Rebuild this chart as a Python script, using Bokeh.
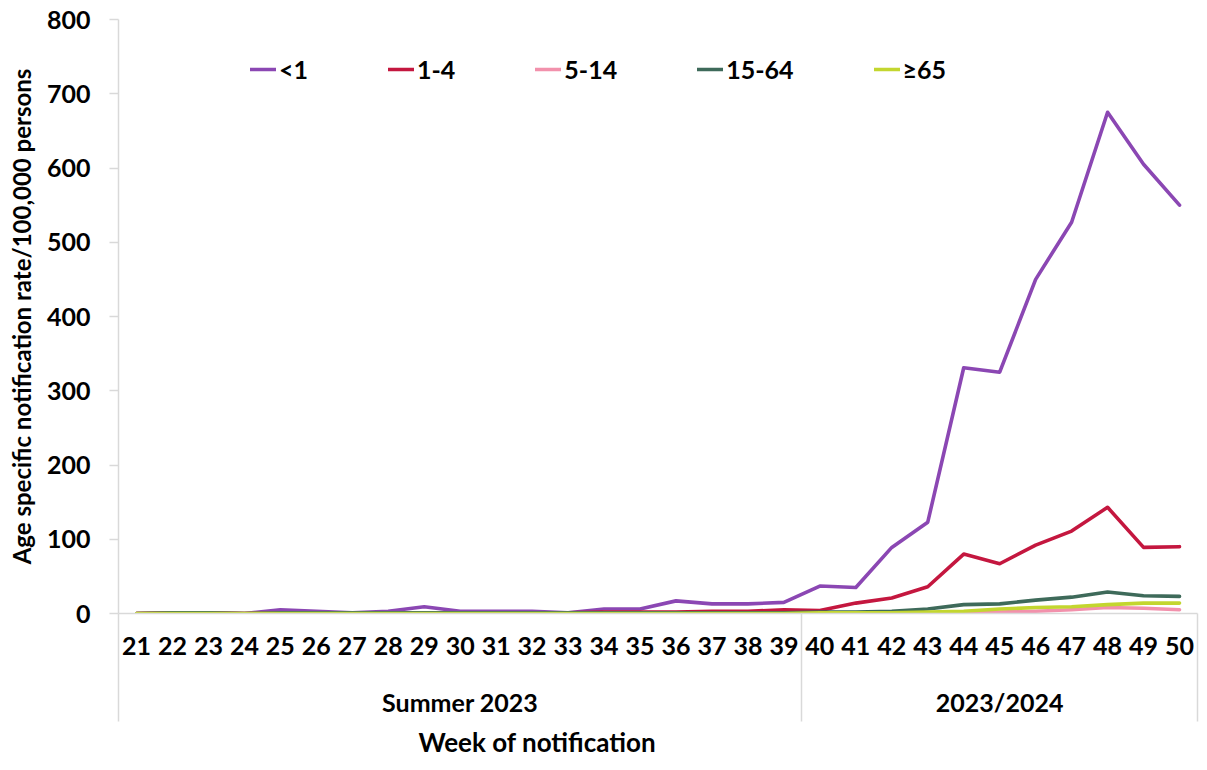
from bokeh.plotting import figure
from bokeh.models import Range1d, FixedTicker, LinearAxis, Legend, LegendItem, Title
from bokeh.embed import file_html
from bokeh.resources import INLINE

# ---------------- data ----------------
weeks = [21, 22, 23, 24, 25, 26, 27, 28, 29, 30, 31, 32, 33, 34, 35, 36, 37, 38, 39,
         40, 41, 42, 43, 44, 45, 46, 47, 48, 49, 50]

age_groups = ["<1", "1-4", "5-14", "15-64", "\u226565"]

rate_lt1 = [0, 1, 1, 0, 5, 3, 1, 3, 9, 3, 3, 3, 1, 6, 6, 17, 13, 13, 15,
            37, 35, 89, 123, 331, 325, 450, 527, 675, 605, 550]
rate_1_4 = [0, 1, 1, 0, 1, 1, 1, 1, 1, 1, 1, 1, 1, 2, 2, 2, 3, 3, 5,
            4, 14, 21, 36, 80, 67, 92, 111, 143, 89, 90]
rate_5_14 = [0, 0, 0, 0, 0, 0, 0, 0, 0, 0, 0, 0, 0, 0, 0, 0, 0, 0, 0,
             0, 0, 1, 1, 1, 2, 3, 5, 8, 7, 5]
rate_15_64 = [0, 1, 1, 0, 1, 1, 1, 1, 1, 1, 1, 1, 1, 1, 1, 1, 1, 1, 1,
              2, 2, 3, 6, 12, 13, 18, 22, 29, 24, 23]
rate_65plus = [0, 0, 0, 0, 0, 0, 0, 0, 0, 0, 0, 0, 0, 0, 0, 0, 0, 0, 0,
               1, 1, 1, 2, 3, 6, 8, 9, 12, 14, 14]

season_names = ["Summer 2023", "2023/2024"]
season_first_week = [21, 40]
season_last_week = [39, 50]

y_ticks = [0, 100, 200, 300, 400, 500, 600, 700, 800]

series = [rate_lt1, rate_1_4, rate_5_14, rate_15_64, rate_65plus]
colors = ["#8B47B3", "#C4173F", "#F291AC", "#3E6A5A", "#C3D62F"]

FONT = "Lato"
GRAY = "#D9D9D9"
TXT = "#000000"
FS = "25px"
SEP_LEN = 108

p = figure(width=1199, height=762, output_backend="svg", toolbar_location=None,
           x_range=Range1d(weeks[0] - 0.5, weeks[-1] + 0.5),
           y_range=Range1d(y_ticks[0], y_ticks[-1]),
           x_axis_type=None, y_axis_type=None,
           min_border_left=118, min_border_right=2, min_border_top=19,
           min_border_bottom=149)
p.outline_line_color = None
p.xgrid.visible = False
p.ygrid.visible = False
p.background_fill_color = "white"

# ---------------- axes ----------------
edges = [season_first_week[0] - 0.5] + [w + 0.5 for w in season_last_week]
xa = LinearAxis(ticker=FixedTicker(ticks=weeks, minor_ticks=edges))
xa.axis_line_color = GRAY
xa.axis_line_width = 1.5
xa.major_tick_in = 0
xa.major_tick_out = 0
xa.major_tick_line_color = None
xa.minor_tick_in = 0
xa.minor_tick_out = SEP_LEN
xa.minor_tick_line_color = GRAY
xa.minor_tick_line_width = 1.5
xa.major_label_standoff = 23 - SEP_LEN
xa.major_label_text_font = FONT
xa.major_label_text_font_size = FS
xa.major_label_text_font_style = "bold"
xa.major_label_text_color = TXT
p.add_layout(xa, "below")

centers = [(f - 0.5 + l + 0.5) / 2 for f, l in zip(season_first_week, season_last_week)]
ga = LinearAxis(ticker=FixedTicker(ticks=centers, minor_ticks=[]),
                major_label_overrides={c: n for c, n in zip(centers, season_names)})
ga.axis_line_color = None
ga.major_tick_line_color = None
ga.minor_tick_line_color = None
ga.major_tick_in = 0
ga.major_tick_out = 0
ga.major_label_standoff = 29
ga.major_label_text_font = FONT
ga.major_label_text_font_size = FS
ga.major_label_text_font_style = "bold"
ga.major_label_text_color = TXT
p.add_layout(ga, "below")

p.add_layout(Title(text="Week of notification", align="left", offset=300,
                   text_font=FONT, text_font_size="26px", text_font_style="bold",
                   text_color=TXT, standoff=8), "below")

ya = LinearAxis(ticker=FixedTicker(ticks=y_ticks, minor_ticks=[]),
                axis_label="Age specific notification rate/100,000 persons")
ya.axis_line_color = GRAY
ya.axis_line_width = 1.5
ya.major_tick_in = 0
ya.major_tick_out = 9
ya.major_tick_line_color = GRAY
ya.major_tick_line_width = 1.5
ya.minor_tick_line_color = None
ya.major_label_standoff = 19
ya.major_label_text_font = FONT
ya.major_label_text_font_size = FS
ya.major_label_text_font_style = "bold"
ya.major_label_text_color = TXT
ya.axis_label_text_font = FONT
ya.axis_label_text_font_size = "24px"
ya.axis_label_text_font_style = "bold"
ya.axis_label_text_color = TXT
ya.axis_label_standoff = 8
p.add_layout(ya, "left")

# ---------------- lines ----------------
items = []
for name, vals, col in zip(age_groups, series, colors):
    r = p.line(weeks, vals, line_color=col, line_width=3.6,
               line_join="round", line_cap="round")
    items.append(LegendItem(label=name, renderers=[r]))

legend = Legend(items=items, orientation="horizontal", location=(132, 529),
                glyph_width=26, glyph_height=24, label_standoff=3, spacing=80,
                padding=0, margin=0, border_line_color=None,
                background_fill_alpha=0,
                label_text_font=FONT, label_text_font_size=FS,
                label_text_font_style="bold", label_text_color=TXT)
p.add_layout(legend, "center")

open("out.html", "w").write(file_html(p, INLINE))
